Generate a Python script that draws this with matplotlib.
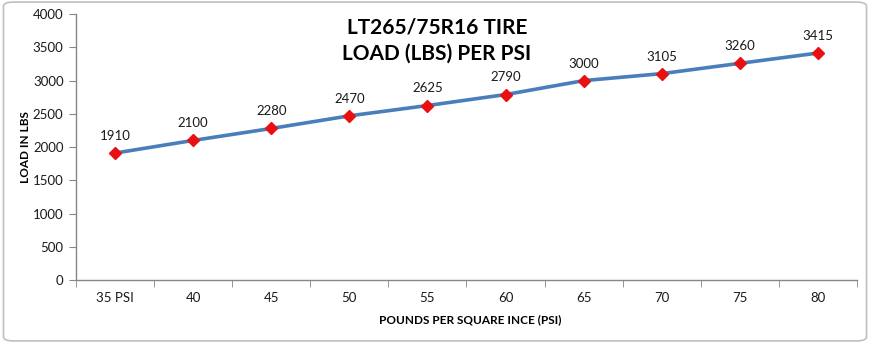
import matplotlib.pyplot as plt
from matplotlib.patches import FancyBboxPatch

pressures = ["35 PSI", "40", "45", "50", "55", "60", "65", "70", "75", "80"]
loads = [1910, 2100, 2280, 2470, 2625, 2790, 3000, 3105, 3260, 3415]

plt.rcParams['font.family'] = ['Lato', 'DejaVu Sans']

fig = plt.figure(figsize=(8.7, 3.43), dpi=100)
fig.patch.set_facecolor('white')

# rounded outer border, kept behind the axes
border = FancyBboxPatch((0.004, 0.006), 0.992, 0.988,
                        boxstyle="round,pad=0,rounding_size=0.012",
                        transform=fig.transFigure, facecolor='white',
                        edgecolor='#bfbfbf', linewidth=1.2, zorder=-5)
fig.patches.append(border)

ax = fig.add_axes([0.0874, 0.1837, 0.8976, 0.775])
ax.set_facecolor('none')
ax.set_zorder(2)

x = list(range(len(pressures)))
ax.plot(x, loads, color='#4a7ebb', linewidth=2.6, zorder=2)
ax.plot(x, loads, linestyle='none', marker='D', markersize=6.5,
        color='#e81010', zorder=3)
for xi, v in zip(x, loads):
    ax.annotate(str(v), (xi, v), xytext=(0, 8), textcoords='offset points',
                ha='center', va='bottom', fontsize=9.5, color='#1a1a1a')

ax.set_xlim(-0.5, len(pressures) - 0.5)
ax.set_ylim(0, 4000)
ax.set_yticks(range(0, 4001, 500))
ax.set_xticks(x)
ax.set_xticklabels(pressures)
ax.set_xticks([i - 0.5 for i in range(len(pressures) + 1)], minor=True)
ax.tick_params(axis='x', which='major', length=0, pad=9, labelsize=9.5,
               colors='#1a1a1a')
ax.tick_params(axis='x', which='minor', length=5, direction='out',
               color='#868686')
ax.tick_params(axis='y', length=5, direction='out', color='#868686',
               labelsize=9.5, labelcolor='#1a1a1a', pad=4)

for side in ('top', 'right'):
    ax.spines[side].set_visible(False)
for side in ('left', 'bottom'):
    ax.spines[side].set_color('#868686')
    ax.spines[side].set_linewidth(1.0)

ax.set_ylabel('LOAD IN LBS', fontsize=8.5, fontweight='bold', labelpad=1)
fig.text(0.54, 0.067, 'POUNDS PER SQUARE INCE (PSI)', fontsize=8.5,
         fontweight='bold', ha='center', va='center')

fig.text(0.502, 0.92, 'LT265/75R16 TIRE', fontsize=15, fontweight='bold',
         ha='center', va='center')
fig.text(0.502, 0.845, 'LOAD (LBS) PER PSI', fontsize=15, fontweight='bold',
         ha='center', va='center')

fig.savefig('out.png', dpi=100, facecolor='white')
